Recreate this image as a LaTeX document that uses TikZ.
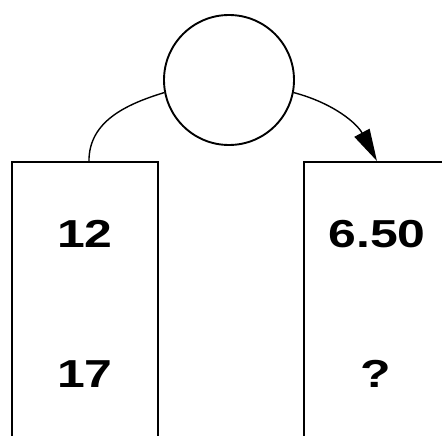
\documentclass[tikz,border=0pt]{standalone}
\usepackage{fontspec}
\setmainfont{Liberation Sans}
\usetikzlibrary{arrows.meta}
\begin{document}
\begin{tikzpicture}[x=1pt,y=-1pt,
  ring/.style={circle,draw,line width=1.9pt,minimum size=130pt,inner sep=0pt},
  col/.style={rectangle,draw,line width=1.9pt,minimum width=146pt,minimum height=400pt,anchor=north west,inner sep=0pt},
  num/.style={font=\fontsize{39}{39}\selectfont\bfseries,inner sep=0pt},
  link/.style={line width=1.4pt}]
\useasboundingbox (0,0) rectangle (442,436);
\clip (0,0) rectangle (442,436);
\fill[white] (0,0) rectangle (442,436);
\node[ring] (c) at (229,80) {};
\node[col] (lb) at (11,161) {};
\node[col] (rb) at (303,161) {};
\node[num] (a) at (85,234) {\scalebox{1.28}[1]{12}};
\node[num] (b) at (85,374) {\scalebox{1.28}[1]{17}};
\node[num] (d) at (377,234) {\scalebox{1.28}[1]{6.50}};
\node[num] (e) at (376,374) {\scalebox{1.28}[1]{?}};
\coordinate (le) at ([xshift=4pt]lb.north);
\draw[link] (c.191) to[out=197,in=90] (le);
\draw[link,-{Triangle[length=32pt,width=17pt]}] (c.349) to[out=-15,in=118] (rb.north);
\end{tikzpicture}
\end{document}
